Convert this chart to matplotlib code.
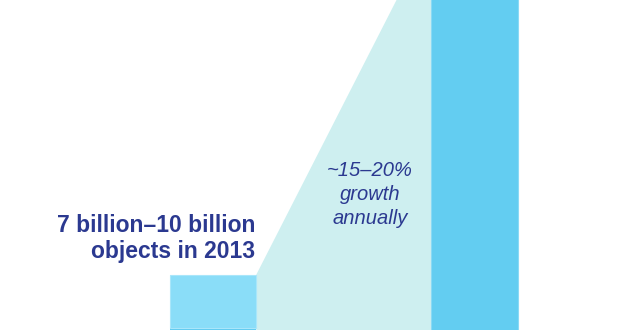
import matplotlib.pyplot as plt

# objects connected, billions
years = ['2013', '2020']
low_2013 = 7
high_2013 = 10
value_2020 = 50
growth_start = 10   # growth band at the 2013 bar edge
growth_end = 29.3   # growth band at the 2020 bar edge

label_2013 = '7 billion\u201310 billion\nobjects in 2013'
label_growth = '~15\u201320%\ngrowth\nannually'

navy = '#2B3990'
width = 0.33

fig = plt.figure(figsize=(6.2, 3.3), dpi=100)
ax = fig.add_axes([0, 0, 1, 1])

pos = list(range(len(years)))

# growth band between the two bars
x_left = pos[0] + width / 2
x_right = pos[1] - width / 2
ax.fill([x_left, x_left, x_right, x_right],
        [0, growth_start, growth_end, 0],
        color='#CEEFF0', lw=0, zorder=1)

# 2013 bar: lower and upper estimate
ax.bar(pos[0], low_2013, width=width, color='#5FCBF1', zorder=2)
ax.bar(pos[0], high_2013 - low_2013, bottom=low_2013, width=width,
       color='#8ADDF8', edgecolor='#A9E6FA', lw=0.8, zorder=2)

# 2020 bar
ax.bar(pos[1], value_2020, width=width, color='#63CDF1',
       edgecolor='#8ADAF5', lw=0.8, zorder=2)

ax.text(x_left - 0.005, high_2013 + 0.65, label_2013, ha='right', va='bottom',
        fontsize=16.5, fontweight='bold', color=navy, family='Liberation Sans',
        linespacing=1.15)
ax.text(0.600, 16.4, label_growth, ha='center', va='top', style='italic',
        fontsize=14.5, color=navy, family='Liberation Sans', linespacing=1.32)

ax.set_xlim(-0.815, 1.556)
ax.set_ylim(6.89, 25.45)
ax.axis('off')

fig.savefig('out.png', dpi=100)
